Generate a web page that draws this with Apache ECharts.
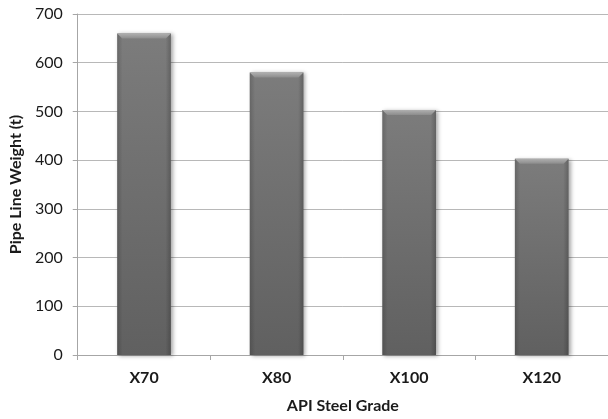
<!DOCTYPE html>
<html>
<head>
<meta charset="utf-8">
<script src="https://cdn.jsdelivr.net/npm/echarts@6/dist/echarts.min.js"></script>
<style>
  html, body { margin: 0; padding: 0; background: #ffffff; }
  #chart { width: 608px; height: 419px; }
</style>
</head>
<body>
<div id="chart"></div>
<script>
// Pipeline weight by API steel grade
const grades = ['X70', 'X80', 'X100', 'X120'];
const weights = [660, 580, 503, 403];
const yTicks = [0, 100, 200, 300, 400, 500, 600, 700];

const FONT = 'Lato, "Open Sans", sans-serif';

const chart = echarts.init(document.getElementById('chart'));

// Bar body: vertical shading plus darker side edges and a light top bevel
function renderBar(params, api) {
  const idx = api.value(0);
  const val = api.value(1);
  const top = api.coord([idx, val]);
  const base = api.coord([idx, 0]);
  const band = api.size([1, 0])[0];
  const w = band * 0.405;
  const x = top[0] - w / 2;
  const y = top[1];
  const h = base[1] - top[1];
  const bevel = 5;
  return {
    type: 'group',
    children: [
      {
        type: 'rect',
        shape: { x: x, y: y, width: w, height: h },
        style: {
          fill: new echarts.graphic.LinearGradient(0, 0, 0, 1, [
            { offset: 0, color: '#7c7c7c' },
            { offset: 1, color: '#606060' }
          ]),
          shadowBlur: 4,
          shadowOffsetX: 2,
          shadowOffsetY: 1,
          shadowColor: 'rgba(0,0,0,0.35)'
        }
      },
      {
        type: 'rect',
        shape: { x: x, y: y, width: w, height: h },
        style: {
          fill: new echarts.graphic.LinearGradient(0, 0, 1, 0, [
            { offset: 0, color: 'rgba(0,0,0,0.16)' },
            { offset: 0.1, color: 'rgba(0,0,0,0.0)' },
            { offset: 0.9, color: 'rgba(0,0,0,0.0)' },
            { offset: 1, color: 'rgba(0,0,0,0.2)' }
          ])
        }
      },
      {
        type: 'polygon',
        shape: {
          points: [[x, y], [x + w, y], [x + w - bevel, y + bevel], [x + bevel, y + bevel]]
        },
        style: {
          fill: new echarts.graphic.LinearGradient(0, 0, 0, 1, [
            { offset: 0, color: '#b0b0b0' },
            { offset: 1, color: '#8c8c8c' }
          ])
        }
      }
    ]
  };
}

chart.setOption({
  animation: false,
  backgroundColor: '#ffffff',
  grid: { left: 76, right: -11, top: 14, bottom: 61, containLabel: false },
  xAxis: {
    type: 'category',
    data: grades,
    name: 'API Steel Grade',
    nameLocation: 'middle',
    nameGap: 43,
    nameTextStyle: { fontFamily: FONT, fontSize: 16, fontWeight: 'bold', color: '#1a1a1a' },
    axisLine: { show: true, lineStyle: { color: '#a6a6a6', width: 1 } },
    axisTick: { show: true, alignWithLabel: false, length: 5, lineStyle: { color: '#a6a6a6' } },
    axisLabel: { margin: 15, fontFamily: FONT, fontSize: 16, fontWeight: 'bold', color: '#1a1a1a' },
    splitLine: { show: false }
  },
  yAxis: {
    type: 'value',
    min: 0,
    max: 700,
    interval: 100,
    name: 'Pipe Line Weight (t)',
    nameLocation: 'middle',
    nameGap: 47,
    nameTextStyle: { fontFamily: FONT, fontSize: 16, fontWeight: 'bold', color: '#1a1a1a' },
    axisLine: { show: true, lineStyle: { color: '#a6a6a6', width: 1 } },
    axisTick: { show: true, length: 5, lineStyle: { color: '#a6a6a6' } },
    axisLabel: {
      margin: 15,
      fontFamily: FONT,
      fontSize: 16,
      color: '#1a1a1a',
      formatter: function (v) { return yTicks.indexOf(v) >= 0 ? String(v) : ''; }
    },
    splitLine: { show: true, lineStyle: { color: '#b8b8b8', width: 1 } }
  },
  series: [{
    type: 'custom',
    renderItem: renderBar,
    data: grades.map((g, i) => [i, weights[i]]),
    encode: { x: 0, y: 1 }
  }]
});
</script>
</body>
</html>
